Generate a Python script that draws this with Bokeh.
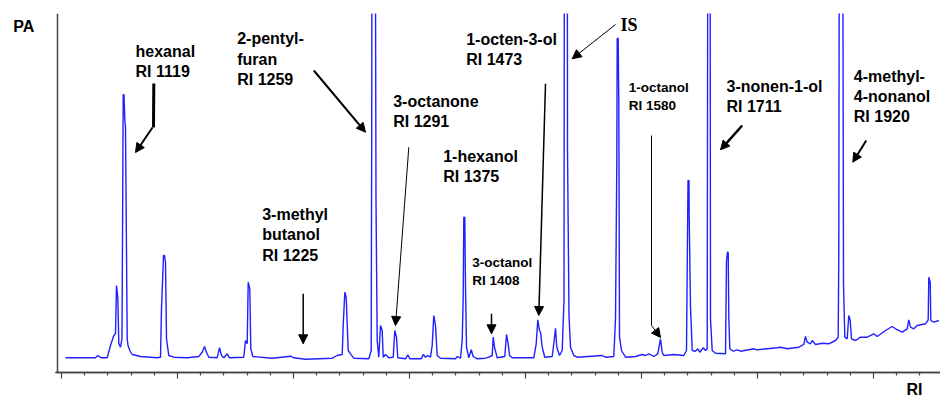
from bokeh.plotting import figure
from bokeh.models import Range1d, FixedTicker, Label, Arrow, NormalHead, LinearAxis
from bokeh.embed import file_html
from bokeh.resources import INLINE

# Chromatogram trace: scan index vs detector signal (peaks above 359 are off-scale)
scan = [4, 34, 36.3, 39.7, 45.7, 49, 52.3, 54, 55, 56.3, 57.3, 59, 60.5, 61.7, 62.5, 63.3, 64, 65.7,
        66.5, 68.3, 70.7, 79, 95.7, 99, 100, 102, 103, 104, 105, 107.3, 112.3, 125.7, 137.3, 140.7,
        143, 145, 147.3, 155.7, 158, 160, 162.3, 165.7, 168, 182.3, 184, 185.7, 186.7, 188.3, 189.3,
        191.3, 210.7, 229, 232.3, 244, 270.7, 275.7, 280.7, 281.7, 283.3, 284.7, 286.7, 289, 292.3,
        307.3, 309.7, 310.2, 310.7, 313.5, 314.5, 315.7, 317.3, 319, 320.7, 321.7, 324, 327.3, 331.7,
        333.3, 335, 336.3, 344, 346.3, 348.3, 359.7, 361.7, 364, 366.3, 369, 370.7, 372.3, 374, 375.7,
        379, 394, 395.7, 399, 400.7, 401.7, 402.3, 403.3, 404, 405, 407.3, 409.7, 411.7, 415.7, 424,
        427.3, 430.7, 431.7, 433, 435.7, 443.3, 445, 446.7, 448, 450.7, 472.3, 474.7, 476.3, 478, 479,
        480.7, 483.3, 490.7, 492.7, 494, 495.3, 498, 500.7, 502.5, 503, 505.7, 506, 507.5, 509, 512.3,
        515.7, 540.7, 544, 552.3, 554, 555.3, 555.7, 556.7, 557, 557.3, 557.5, 558, 560, 564, 574,
        580.7, 584, 587.3, 592.3, 596.3, 599, 600.7, 602.3, 612.3, 622.3, 625, 625.7, 626.5, 627.5,
        627.7, 629, 629.7, 630.7, 634, 636.3, 638.3, 641.7, 644, 645.7, 646.5, 648.5, 649, 650.7, 654,
        664, 665, 666, 666.7, 667.3, 668.3, 671.7, 675.7, 679, 692.3, 695.7, 705.7, 715.7, 719, 725.7,
        737.3, 742.3, 744, 745.7, 749, 750.7, 754, 760.7, 767.3, 774, 776.7, 777.3, 778, 781, 782,
        783.3, 785.7, 787.3, 788.7, 790, 794, 799, 805.7, 812.3, 815.7, 824, 830.7, 834, 840.7, 845.7,
        847.3, 849, 852.3, 855.7, 864, 866.7, 867.3, 868.7, 869.3, 872.3, 877.3]
signal = [14.7, 14.7, 17, 14.7, 14.7, 27, 37, 38.7, 87, 75.3, 28.7, 25.3, 34, 277.7, 277.7, 253, 245, 34,
          27, 22, 18, 16, 14.7, 15.3, 63.7, 117, 117, 110, 33.7, 17, 15.3, 14.7, 16, 20.3,
          26, 20.3, 15.3, 14.7, 24.7, 17, 14.7, 18.7, 14.7, 15.3, 32, 28.7, 90.3, 83.7, 23.7,
          16, 14.3, 16.3, 14.7, 13.3, 14.3, 17, 18, 47, 80.3, 75.3, 22, 18.7, 14.3,
          13.7, 22, 232, 600, 600, 172, 32, 15.3, 47, 42, 15.3, 18, 14.7, 15.3,
          42, 35.3, 14.7, 13.7, 17.7, 13.7, 13.7, 18, 15.3, 17, 15.3, 27, 57, 47, 17,
          14.3, 13.7, 16, 14.3, 32, 75.3, 155.3, 155.3, 85.3, 25.3, 14.7, 22.7, 16, 13.7, 14.3,
          15.3, 17, 35.3, 25.3, 14.7, 16, 38, 28.7, 17, 14.7, 14.7, 28.7, 52.7, 42, 40.3,
          25.3, 15.3, 16, 32, 44.3, 25.3, 17, 22, 72, 600, 600, 224, 57, 25.3, 17,
          15.3, 17, 15.3, 16, 53.7, 209, 334, 334, 297, 269, 209, 35.3, 22, 15.3, 16,
          18, 17, 18.7, 16, 18.7, 33.7, 20.3, 17, 18, 17, 22, 102, 192, 192,
          155.3, 65.3, 48.7, 22, 21.3, 23.7, 20.3, 24.7, 22, 23.7, 600, 600, 53.7, 22, 19.3,
          18.7, 112, 120.3, 120.3, 55.3, 23.7, 21.3, 22.7, 21.3, 23.7, 22.7, 23.7, 24.7, 25.3, 23.7,
          25.3, 28, 36, 30.3, 28.7, 32, 28, 29.3, 28.7, 32, 35.3, 120.3, 600, 600, 88.7,
          35.3, 33.7, 57, 52, 33.7, 32, 35.3, 35.3, 38.7, 36, 42, 46, 43.7, 40.3, 43.7,
          52.7, 45.3, 43.7, 47, 48.7, 52.7, 95.3, 90.3, 52, 50.3, 52]

# Compound annotations: text, left x, top y, font size
compounds = ["hexanal\nRI 1119", "2-pentyl-\nfuran\nRI 1259", "3-methyl\nbutanol\nRI 1225",
             "3-octanone\nRI 1291", "1-hexanol\nRI 1375", "1-octen-3-ol\nRI 1473",
             "3-octanol\nRI 1408", "1-octanol\nRI 1580", "3-nonen-1-ol\nRI 1711",
             "4-methyl-\n4-nonanol\nRI 1920"]
comp_x = [74, 175.7, 200.7, 331.7, 381.7, 404.7, 410.7, 567.3, 665, 792.3]
comp_y = [330, 342.3, 166.5, 280, 225, 341.7, 118, 293, 295, 305]
comp_size = ["16px", "16px", "16px", "16px", "16px", "16px", "13.5px", "13.5px", "16px", "16px"]

# Arrows: start (x0, y0) -> head (x1, y1), line width
arr_x0 = [91, 252.3, 241.7, 347.3, 430, 484, 554, 590, 680.7, 804.7]
arr_y0 = [245, 302, 78.7, 225.3, 58.7, 288.7, 348, 47, 247, 232]
arr_x1 = [74, 304, 241.7, 334, 430, 477.3, 510.7, 599, 659, 791.3]
arr_y1 = [220, 240.3, 28.7, 47, 38.7, 57, 313.7, 35, 222.7, 210.3]
arr_w = [2, 2, 1.5, 1, 1.5, 1.5, 1, 1, 2.5, 2]
# leader segments (no head)
seg_x0 = [92.3, 590]
seg_y0 = [289, 237]
seg_x1 = [92, 590]
seg_y1 = [245, 47]
seg_w = [3, 1]

major_step = 116
major_ticks = [i * major_step for i in range(8)]
minor_ticks = [i * major_step / 5 for i in range(38) if i % 5 != 0]

p = figure(width=940, height=398, output_backend="svg", toolbar_location=None,
           x_range=Range1d(-61, 879), y_range=Range1d(-26, 359),
           min_border_left=0, min_border_top=13, min_border_bottom=0, min_border_right=0)
p.outline_line_color = None
p.grid.visible = False
p.background_fill_color = "white"

p.line(scan, signal, line_color="#2020ff", line_width=1.4)

for x0, y0, x1, y1, w in zip(seg_x0, seg_y0, seg_x1, seg_y1, seg_w):
    p.segment(x0=[x0], y0=[y0], x1=[x1], y1=[y1], line_color="black", line_width=w)
for x0, y0, x1, y1, w in zip(arr_x0, arr_y0, arr_x1, arr_y1, arr_w):
    p.add_layout(Arrow(x_start=x0, y_start=y0, x_end=x1, y_end=y1, line_width=w, line_color="black",
                       end=NormalHead(size=9, fill_color="black", line_color="black", line_width=1)))

for t, x, y, s in zip(compounds, comp_x, comp_y, comp_size):
    p.add_layout(Label(x=x, y=y, text=t, text_font="Liberation Sans", text_font_style="bold",
                       text_font_size=s, text_baseline="top", text_align="left",
                       text_line_height=1.2, text_color="black"))

p.add_layout(Label(x=559, y=358, text="IS", text_font="Liberation Serif", text_font_style="bold",
                   text_font_size="18px", text_baseline="top", text_color="black"))
p.add_layout(Label(x=-48.3, y=354.3, text="PA", text_font="Liberation Sans", text_font_style="bold",
                   text_font_size="16px", text_baseline="top", text_color="black"))
p.add_layout(Label(x=845, y=-8, text="RI", text_font="Liberation Sans", text_font_style="bold",
                   text_font_size="16px", text_baseline="top", text_color="black"))


def style_x(ax, minor, tick_len):
    ax.fixed_location = 0
    ax.bounds = (-6, 879)
    ax.ticker = FixedTicker(ticks=[], minor_ticks=minor)
    ax.axis_line_color = "#444444"
    ax.axis_line_width = 1.5
    ax.minor_tick_line_color = "#444444"
    ax.minor_tick_line_width = 1.2
    ax.minor_tick_out = tick_len
    ax.minor_tick_in = 0
    ax.major_tick_line_color = None


style_x(p.xaxis[0], minor_ticks, 3)
ax2 = LinearAxis()
p.add_layout(ax2, "below")
style_x(ax2, major_ticks, 6)

ay = p.yaxis[0]
ay.fixed_location = -4
ay.bounds = (0, 359)
ay.ticker = FixedTicker(ticks=[])
ay.axis_line_color = "#444444"
ay.axis_line_width = 1.5
ay.major_tick_line_color = None
ay.minor_tick_line_color = None

open("out.html", "w").write(file_html(p, INLINE))
